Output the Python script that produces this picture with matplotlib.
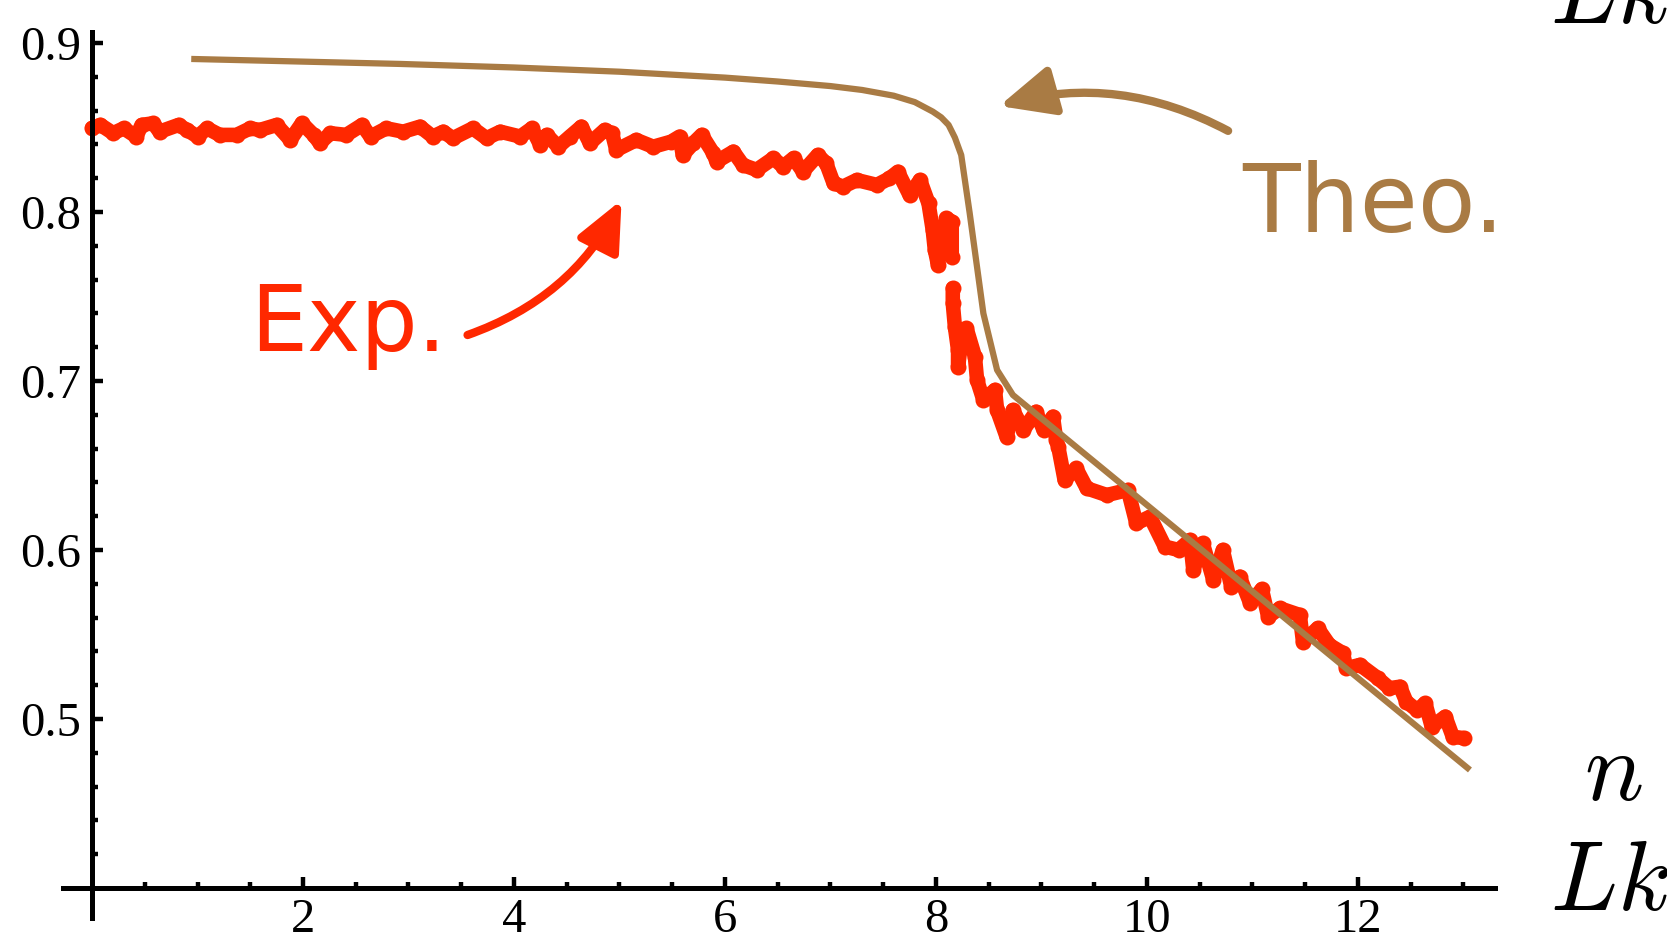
import numpy as np
import matplotlib
matplotlib.use("Agg")
import matplotlib.pyplot as plt

RED = '#ff2800'
BROWN = '#a97b44'

# theoretical curve
theo_x = [0.97, 2.92, 4.0, 5.0, 6.0, 6.5, 7.0, 7.3, 7.6, 7.8, 7.97, 8.05, 8.12, 8.18, 8.24,
          8.32, 8.45, 8.58, 8.73, 13.04]
theo_y = [0.8905, 0.8876, 0.8855, 0.8830, 0.8795, 0.8772, 0.8745, 0.8722, 0.8688, 0.8650,
          0.8594, 0.8560, 0.8515, 0.8440, 0.8337, 0.7994, 0.7400, 0.7065, 0.6917, 0.4710]

# experimental points (nan = gap in the trace)
exp_x = [0.00, 0.08, 0.20, 0.30, 0.42, 0.47, 0.58, 0.64, 0.82, 0.90, 1.00, 1.09, 1.21, 1.37,
         1.50, 1.59, 1.75, 1.88, 1.99, 2.10, 2.16, 2.26, 2.41, 2.56, 2.64, 2.79, 2.95, 3.11,
         3.23, 3.33, 3.42, 3.61, 3.74, 3.87, 4.06, 4.17, 4.25, 4.31, 4.42, 4.53, 4.64, 4.72,
         4.86, 4.93, 4.97, 5.16, 5.32, 5.49, 5.57, 5.60, 5.70, 5.78, 5.89, 5.92, 6.08, 6.17,
         6.30, 6.46, 6.55, 6.65, 6.74, 6.88, 6.96, 7.03, 7.12, 7.25, 7.44, 7.56, 7.64, 7.75,
         7.85, 7.93, 7.97, 7.99, 8.02, 8.04, 8.10, 8.15, 8.15, np.nan, 8.16, 8.16, 8.18, 8.21,
         8.21, 8.25, 8.29, 8.37, 8.39, 8.45, 8.56, 8.58, 8.67, 8.73, 8.83, 8.95, 9.02, 9.11,
         9.14, 9.16, 9.22, 9.33, 9.43, 9.62, 9.82, 9.90, 10.03, 10.17, 10.30, 10.41, 10.44,
         10.53, 10.63, 10.72, 10.80, 10.88, 10.98, 11.09, 11.15, 11.26, 11.45, 11.48, 11.62,
         11.73, 11.86, 11.89, 12.02, 12.19, 12.30, 12.40, 12.46, 12.56, 12.64, 12.70, 12.83,
         12.90, 13.01]
exp_y = [0.8497, 0.8515, 0.8466, 0.8495, 0.8446, 0.8515, 0.8525, 0.8475, 0.8515, 0.8485,
         0.8446, 0.8495, 0.8456, 0.8456, 0.8495, 0.8485, 0.8515, 0.8426, 0.8525, 0.8456,
         0.8407, 0.8466, 0.8456, 0.8515, 0.8446, 0.8495, 0.8475, 0.8505, 0.8446, 0.8475,
         0.8436, 0.8495, 0.8436, 0.8475, 0.8446, 0.8495, 0.8396, 0.8456, 0.8386, 0.8446,
         0.8505, 0.8407, 0.8485, 0.8466, 0.8367, 0.8426, 0.8386, 0.8416, 0.8446, 0.8337,
         0.8407, 0.8456, 0.8347, 0.8298, 0.8357, 0.8278, 0.8249, 0.8318, 0.8268, 0.8318,
         0.8239, 0.8337, 0.8288, 0.8170, 0.8150, 0.8189, 0.8160, 0.8199, 0.8238, 0.8101,
         0.8189, 0.8051, 0.7893, 0.7775, 0.7686, 0.7795, 0.7963, 0.7943, 0.7736, np.nan,
         0.7549, 0.7460, 0.7321, 0.7183, 0.7085, 0.7280, 0.7312, 0.7144, 0.7006, 0.6888,
         0.6947, 0.6828, 0.6670, 0.6828, 0.6710, 0.6818, 0.6710, 0.6789, 0.6651, 0.6611,
         0.6414, 0.6483, 0.6365, 0.6325, 0.6355, 0.6158, 0.6197, 0.6020, 0.6000, 0.6059,
         0.5882, 0.6040, 0.5822, 0.6000, 0.5783, 0.5842, 0.5685, 0.5768, 0.5605, 0.5655,
         0.5615, 0.5457, 0.5537, 0.5438, 0.5389, 0.5300, 0.5320, 0.5241, 0.5182, 0.5191,
         0.5102, 0.5053, 0.5093, 0.4955, 0.5014, 0.4895, 0.4886]

x_major = [2, 4, 6, 8, 10, 12]
x_minor = [v * 0.5 for v in range(1, 27) if v % 4 != 0]
y_major = [0.5, 0.6, 0.7, 0.8, 0.9]
y_minor = [round(0.42 + 0.02 * i, 2) for i in range(24) if i % 5 != 4]

plt.rcParams['font.family'] = 'Liberation Serif'
plt.rcParams['mathtext.fontset'] = 'cm'
plt.rcParams['xtick.labelsize'] = 35
plt.rcParams['ytick.labelsize'] = 35

fig = plt.figure(figsize=(16.67, 9.38), dpi=100)
ax = fig.add_axes([0.0375, 0.0209, 0.8593, 0.945])

ax.plot(exp_x, exp_y, color=RED, lw=10.5, marker='o', ms=11.5, mew=0,
        solid_capstyle='round', solid_joinstyle='round', zorder=2)
ax.plot(theo_x, theo_y, color=BROWN, lw=4.5, zorder=3)

ax.set_xlim(-0.28, 13.30)
ax.set_ylim(0.382, 0.9065)

for s in ['top', 'right']:
    ax.spines[s].set_visible(False)
ax.spines['left'].set_position(('data', 0))
ax.spines['bottom'].set_position(('data', 0.4))
for s in ['left', 'bottom']:
    ax.spines[s].set_linewidth(3.6)

ax.set_xticks(x_major)
ax.set_xticks(x_minor, minor=True)
ax.set_yticks(y_major)
ax.set_yticks(y_minor, minor=True)
ax.set_yticklabels(['0.5', '0.6', '0.7', '0.8', '0.9'])
ax.tick_params(which='major', direction='in', length=8, width=3.2)
ax.tick_params(which='minor', direction='in', length=4, width=3.2)
ax.tick_params(axis='x', which='major', pad=7)
ax.tick_params(axis='y', which='major', pad=8)

# hand-drawn style labels and arrows
ax.text(10.90, 0.7882, 'Theo.', color=BROWN, fontsize=68, family='DejaVu Sans',
        ha='left', va='baseline')
ax.text(1.50, 0.7178, 'Exp.', color=RED, fontsize=65, family='DejaVu Sans',
        ha='left', va='baseline')

ax.annotate('', xy=(5.02, 0.8071), xytext=(3.56, 0.7272),
            arrowprops=dict(arrowstyle='-|>,head_length=1.0,head_width=0.45', color=RED, lw=6,
                            connectionstyle='arc3,rad=0.2', shrinkA=0, shrinkB=0,
                            mutation_scale=30))
ax.annotate('', xy=(8.60, 0.8627), xytext=(10.77, 0.8480),
            arrowprops=dict(arrowstyle='-|>,head_length=1.1,head_width=0.5', color=BROWN, lw=6,
                            connectionstyle='arc3,rad=0.2', shrinkA=0, shrinkB=0,
                            mutation_scale=30))

fig.text(0.930, 0.030, '$Lk$', fontsize=71)
fig.text(0.950, 0.147, '$n$', fontsize=71)
fig.text(0.930, 0.9755, '$Lk$', fontsize=71)

fig.savefig('out.png', dpi=100)
